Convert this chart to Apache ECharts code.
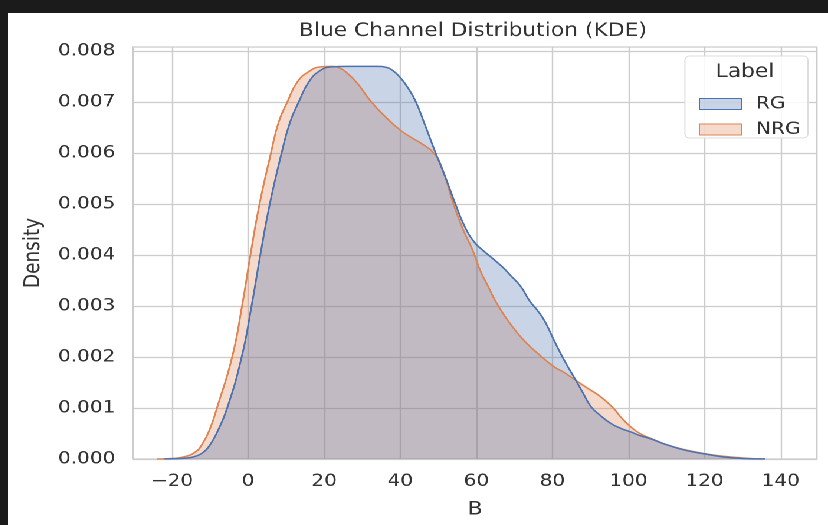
<!DOCTYPE html>
<html>
<head>
<meta charset="utf-8">
<script src="https://cdn.jsdelivr.net/npm/echarts@6/dist/echarts.min.js"></script>
<style>
  html, body { margin: 0; padding: 0; background: #fff; width: 828px; height: 525px; overflow: hidden; }
  #topbar { position: absolute; left: 0; top: 0; width: 828px; height: 13px; background: #1b1b1b; }
  #leftbar { position: absolute; left: 0; top: 0; width: 8px; height: 525px; background: #1b1b1b; }
  #chart { position: absolute; left: 8px; top: 13px; width: 695px; height: 512px; background: #fff;
           transform: scaleX(1.1799); transform-origin: 0 0; }
</style>
</head>
<body>
<div id="topbar"></div>
<div id="leftbar"></div>
<div id="chart"></div>
<script>
// KDE curves: x = B value, y = density
var rgX = [-22, -18, -16, -14, -12, -10, -8, -5.5, -1.7, 0.9, 3.2, 5.7, 8.8, 11, 13.3, 16, 19, 22, 26, 30, 34, 36.3, 38, 40, 42, 44, 46.5, 49.3, 52, 54.5, 57, 59.5, 61.6, 64, 66.8, 69, 71.7, 74, 76, 78, 80.4, 83, 86.1, 88, 90.1, 92.5, 95.3, 98, 100.6, 103, 106, 110, 115, 120, 125, 130, 136];
var rgY = [0, 0.00001, 0.00002, 0.00005, 0.00012, 0.00028, 0.00055, 0.001, 0.002, 0.003, 0.004, 0.005, 0.006, 0.0066, 0.007, 0.0074, 0.00762, 0.00769, 0.0077, 0.0077, 0.0077, 0.00768, 0.00762, 0.00748, 0.00728, 0.00702, 0.00655, 0.006, 0.0055, 0.005, 0.00455, 0.00425, 0.0041, 0.00395, 0.00377, 0.0036, 0.00338, 0.0031, 0.00292, 0.0027, 0.00233, 0.00195, 0.00155, 0.0013, 0.00103, 0.00086, 0.0007, 0.0006, 0.00053, 0.00046, 0.00039, 0.00028, 0.00017, 0.0001, 0.00004, 0.00001, 0];

var nrgX = [-24, -20, -17, -14, -12, -10, -8.2, -4.2, -1.6, 0.6, 3.0, 6.0, 8, 10.3, 13, 16, 19, 22, 24, 26, 28.7, 32.2, 36.1, 40, 43, 45.3, 48.8, 51, 54, 56.5, 59, 61, 63, 65, 67.5, 70.8, 73.5, 76, 80.4, 83, 86, 89, 92.7, 96, 98, 100.6, 103, 106, 110, 115, 122, 130, 136];
var nrgY = [0, 0.00001, 0.00004, 0.00013, 0.0003, 0.0006, 0.001, 0.002, 0.003, 0.004, 0.005, 0.006, 0.0066, 0.007, 0.0074, 0.0076, 0.00769, 0.0077, 0.00767, 0.00757, 0.00737, 0.00702, 0.00671, 0.00645, 0.0063, 0.0062, 0.006, 0.0057, 0.005, 0.0045, 0.0041, 0.0037, 0.0034, 0.0031, 0.0028, 0.00247, 0.00225, 0.00208, 0.00181, 0.0017, 0.00155, 0.0014, 0.00122, 0.001, 0.00082, 0.00063, 0.0005, 0.0004, 0.00028, 0.00018, 0.00008, 0.00002, 0];

var xTicks = [-20, 0, 20, 40, 60, 80, 100, 120, 140];
var yTicks = [0, 0.001, 0.002, 0.003, 0.004, 0.005, 0.006, 0.007, 0.008];

var blue = '#4C72B0', orange = '#DD8452';
var font = 'DejaVu Sans';

function pairs(xs, ys) {
    return xs.map(function (x, i) { return [x, ys[i]]; });
}

var myChart = echarts.init(document.getElementById('chart'), null, { devicePixelRatio: 2 });
myChart.setOption({
    animation: false,
    backgroundColor: '#fff',
    grid: {
        left: 106, right: 9.4, top: 34, bottom: 66,
        show: true, borderColor: '#cccccc', borderWidth: 1.2
    },
    xAxis: {
        type: 'value',
        min: -30.25, max: 149.54,
        name: 'B', nameLocation: 'middle', nameGap: 41,
        nameTextStyle: { fontFamily: font, fontSize: 18.5, color: '#333' },
        axisLine: { show: false },
        axisTick: { show: false, customValues: xTicks },
        axisLabel: {
            customValues: xTicks, margin: 14,
            fontFamily: font, fontSize: 17, color: '#333',
            formatter: function (v) { return String(v).replace('-', '\u2212'); }
        },
        splitLine: { show: true, lineStyle: { color: '#cccccc', width: 1.2 } }
    },
    yAxis: {
        type: 'value',
        min: 0, max: 0.00808,
        name: 'Density', nameLocation: 'middle', nameGap: 72, nameRotate: 90,
        nameTextStyle: { fontFamily: font, fontSize: 18.5, color: '#333' },
        axisLine: { show: false },
        axisTick: { show: false, customValues: yTicks },
        axisLabel: {
            customValues: yTicks, margin: 15,
            fontFamily: font, fontSize: 17, color: '#333',
            formatter: function (v) { return v.toFixed(3); }
        },
        splitLine: { show: true, lineStyle: { color: '#cccccc', width: 1.2 } }
    },
    legend: {
        orient: 'vertical',
        left: 580.5, top: 77.5,
        itemWidth: 36, itemHeight: 11, itemGap: 8.5,
        icon: 'rect',
        textStyle: { fontFamily: font, fontSize: 17, color: '#333', padding: [0, 0, 0, 7] },
        data: [
            { name: 'RG', itemStyle: { color: 'rgba(76,114,176,0.3)', borderColor: blue, borderWidth: 1 } },
            { name: 'NRG', itemStyle: { color: 'rgba(221,132,82,0.3)', borderColor: orange, borderWidth: 1 } }
        ]
    },
    graphic: [
        {
            type: 'text', x: 394, y: 18, z: 5,
            style: { text: 'Blue Channel Distribution (KDE)', fontFamily: font, fontSize: 18.5,
                     fill: '#333', textAlign: 'center', textVerticalAlign: 'middle' }
        },
        {
            type: 'rect', z: 3,
            shape: { x: 573.7, y: 43, width: 104.3, height: 82, r: 4 },
            style: { fill: 'rgba(255,255,255,0.85)', stroke: '#dddddd', lineWidth: 1 }
        },
        {
            type: 'text', x: 624.6, y: 59, z: 5,
            style: { text: 'Label', fontFamily: font, fontSize: 18.5, fill: '#333',
                     textAlign: 'center', textVerticalAlign: 'middle' }
        }
    ],
    series: [
        {
            name: 'NRG', type: 'line', smooth: 0.5, showSymbol: false,
            color: orange,
            lineStyle: { color: orange, width: 1.5 },
            areaStyle: { color: orange, opacity: 0.3 },
            data: pairs(nrgX, nrgY)
        },
        {
            name: 'RG', type: 'line', smooth: 0.5, showSymbol: false,
            color: blue,
            lineStyle: { color: blue, width: 1.5 },
            areaStyle: { color: blue, opacity: 0.3 },
            data: pairs(rgX, rgY)
        }
    ]
});
</script>
</body>
</html>
